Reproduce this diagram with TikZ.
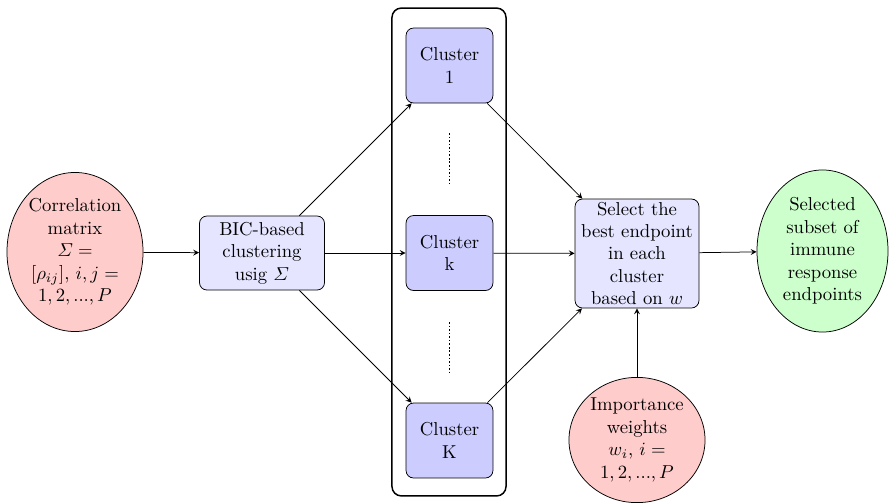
\documentclass[tikz,border=0pt]{standalone}
\usepackage{amsmath}
\usetikzlibrary{shapes.geometric,arrows.meta}
\begin{document}
\begin{tikzpicture}[x=0.535pt,y=-0.535pt,
  ell/.style={ellipse,draw,align=center,inner sep=0pt},
  rbox/.style={rectangle,draw,rounded corners=4pt,align=center,inner sep=0pt},
  arr/.style={-stealth},
  dotline/.style={line width=0.9pt,densely dotted}]
\useasboundingbox (0,0) rectangle (889,502);
% frame around clusters
\node (frame) [rectangle,draw,thick,rounded corners=5pt,minimum width=61pt,minimum height=261pt,inner sep=0pt] at (449,252) {};
\node (corr) [ell,fill=red!20,minimum width=72.8pt,minimum height=85.1pt] at (75,252)
  {Correlation\\ matrix\\ $\varSigma =$\\ $[\rho_{ij}]$, $i,j =$\\ $1,2,...,P$};
\node (bic) [rbox,fill=blue!10,minimum width=66.9pt,minimum height=39.6pt] at (262,253)
  {BIC-based\\ clustering\\ usig $\varSigma$};
\node (c1) [rbox,fill=blue!20,minimum width=46.5pt,minimum height=40.1pt] at (449.5,65.5) {Cluster\\ 1};
\node (ck) [rbox,fill=blue!20,minimum width=46.5pt,minimum height=40.1pt] at (449.5,253) {Cluster\\ k};
\node (cK) [rbox,fill=blue!20,minimum width=46.5pt,minimum height=40.1pt] at (449.5,440.5) {Cluster\\ K};
\coordinate (d1a) at (449.5,133);
\coordinate (d1b) at (449.5,185);
\coordinate (d2a) at (449.5,322);
\coordinate (d2b) at (449.5,375);
\draw[dotline] (d1a) -- (d1b);
\draw[dotline] (d2a) -- (d2b);
\node (sel) [rbox,fill=blue!10,minimum width=66.3pt,minimum height=58.3pt] at (637,253.5)
  {Select the\\ best endpoint\\ in each\\ cluster\\ based on $w$};
\node (out) [ell,fill=green!20,minimum width=70.1pt,minimum height=86.7pt] at (822.5,251)
  {Selected\\ subset of\\ immune\\ response\\ endpoints};
\node (imp) [ell,fill=red!20,minimum width=72.8pt,minimum height=67pt] at (637,440)
  {Importance\\ weights\\ $w_i$, $i =$\\ $1,2,...,P$};
\draw[arr] (corr) -- (bic);
\draw[arr] (bic) -- (c1);
\draw[arr] (bic) -- (ck);
\draw[arr] (bic) -- (cK);
\draw[arr] (c1) -- (sel);
\draw[arr] (ck) -- (sel);
\draw[arr] (cK) -- (sel);
\draw[arr] (sel) -- (out);
\draw[arr] (imp) -- (sel);
\end{tikzpicture}
\end{document}
